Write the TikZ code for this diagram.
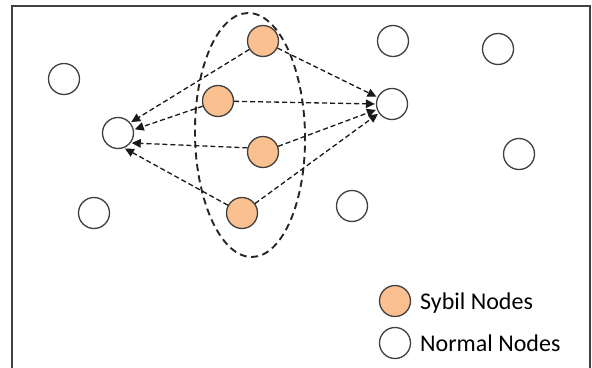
\documentclass[tikz,border=0pt]{standalone}
\usepackage{fontspec}
\setmainfont{Carlito}
\usetikzlibrary{arrows.meta}
\definecolor{sybilfill}{HTML}{FAC090}
\definecolor{edgegray}{HTML}{404040}
\begin{document}
\begin{tikzpicture}[x=1pt,y=-1pt,
  nodecirc/.style={circle, draw=edgegray, line width=1.3pt, minimum size=31pt, inner sep=0pt},
  normalnode/.style={nodecirc, fill=white},
  sybilnode/.style={nodecirc, fill=sybilfill},
  link/.style={draw=black!90, line width=1.3pt, dash pattern=on 5pt off 3pt,
    -{Triangle[length=9pt,width=8.5pt]}, shorten >=1pt},
  group/.style={draw=black!85, line width=1.9pt, dash pattern=on 7pt off 4.5pt},
  legendtext/.style={font=\fontsize{24}{28}\selectfont, anchor=base west, inner sep=0pt, text=black},
  frame/.style={draw=edgegray, line width=2pt}
]
\useasboundingbox (0,0) rectangle (592,367);

% outer frame (open at the bottom)
\draw[frame] (12,368) -- (12,6) -- (590,6) -- (590,368);

% normal nodes
\node[normalnode] (n1) at (64,79) {};
\node[normalnode] (vl) at (118,133) {};
\node[normalnode] (n3) at (94,213) {};
\node[normalnode] (n4) at (393,41) {};
\node[normalnode] (vr) at (392,104) {};
\node[normalnode] (n6) at (352,206) {};
\node[normalnode] (n7) at (498,49) {};
\node[normalnode] (n8) at (519,154) {};

% sybil nodes
\node[sybilnode] (s1) at (263,41) {};
\node[sybilnode] (s2) at (218,101) {};
\node[sybilnode] (s3) at (263,152) {};
\node[sybilnode] (s4) at (242,213) {};

% group boundary around the sybil nodes
\draw[group, rotate around={1:(250,135)}] (250,135) ellipse [x radius=55, y radius=122];

% forged links towards the two victims
\draw[link] (s1) -- (vl.40);
\draw[link] (s2) -- (vl.12);
\draw[link] (s3.165) -- (vl.-38);
\draw[link] (s4) -- (vl.-68);
\draw[link] (s1) -- (vr.155);
\draw[link] (s2) -- (vr.180);
\draw[link] (s3) -- (vr.200);
\draw[link] (s4) -- (vr.215);

% legend
\node[sybilnode] (ls) at (395,301) {};
\node[normalnode] (ln) at (395,343) {};
\node[legendtext] (lst) at (420,309) {Sybil Nodes};
\node[legendtext] (lnt) at (420,351) {Normal Nodes};
\end{tikzpicture}
\end{document}
